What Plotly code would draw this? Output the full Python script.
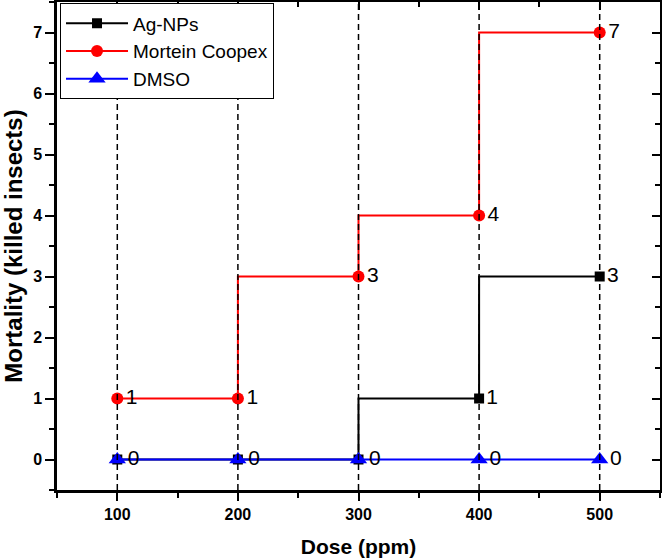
import plotly.graph_objects as go

DOSES = [100, 200, 300, 400, 500]
AG_NPS = [0, 0, 0, 1, 3]
MORTEIN = [1, 1, 3, 4, 7]
DMSO = [0, 0, 0, 0, 0]
SERIES = [
    ("Ag-NPs", AG_NPS, "black", "square", 10),
    ("Mortein Coopex", MORTEIN, "#ff0000", "circle", 12),
    ("DMSO", DMSO, "#0000ff", "triangle-up", 15),
]
X_TICKS = [100, 200, 300, 400, 500]
Y_TICKS = [0, 1, 2, 3, 4, 5, 6, 7]

FONT = "Arial, Liberation Sans, sans-serif"

fig = go.Figure()
for i, (name, vals, color, sym, size) in enumerate(SERIES):
    # labels for Ag-NPs zero points coincide with DMSO labels; show them once
    labels = [str(v) for v in vals]
    if name == "Ag-NPs":
        labels = [str(v) if v != d else "" for v, d in zip(vals, DMSO)]
    fig.add_trace(go.Scatter(
        x=DOSES, y=vals, name=name,
        mode="lines+markers+text",
        line=dict(color=color, width=2, shape="vh"),
        marker=dict(color=color, symbol=sym, size=size),
        text=labels,
        textposition="middle right",
        textfont=dict(family=FONT, size=21, color="black"),
        hoverinfo="skip", cliponaxis=False,
    ))

# invisible trace for mirrored (inward) top/right tick axes
fig.add_trace(go.Scatter(x=DOSES, y=MORTEIN, xaxis="x2", yaxis="y2",
                         mode="markers", marker=dict(opacity=0),
                         showlegend=False, hoverinfo="skip"))

for d in DOSES:
    fig.add_shape(type="line", xref="x", yref="paper", x0=d, x1=d, y0=0, y1=1,
                  line=dict(color="black", width=1.5, dash="6px,4px"), layer="above")

axis_common = dict(showgrid=False, zeroline=False, linecolor="black", linewidth=2.5,
                   tickcolor="black", tickwidth=2, automargin=False,
                   tickfont=dict(family=FONT, size=16, color="black", weight="bold"))

fig.update_layout(
    width=662, height=560,
    margin=dict(l=57, r=2, t=2, b=70, autoexpand=False),
    paper_bgcolor="white", plot_bgcolor="white",
    xaxis=dict(range=[50, 550], tickvals=X_TICKS, ticks="outside", ticklen=8,
               minor=dict(dtick=50, tick0=50, ticks="outside", ticklen=5, tickwidth=2, tickcolor="black"),
               title=dict(text="Dose (ppm)", font=dict(family=FONT, size=21, color="black", weight="bold"),
                          standoff=18),
               mirror=True, **axis_common),
    yaxis=dict(range=[-0.5, 7.5], tickvals=Y_TICKS, ticks="outside", ticklen=9,
               minor=dict(dtick=0.5, tick0=0, ticks="outside", ticklen=5, tickwidth=2, tickcolor="black"),
               title=dict(text="Mortality (killed insects)",
                          font=dict(family=FONT, size=24, color="black", weight="bold"), standoff=9),
               mirror=True, **axis_common),
    xaxis2=dict(overlaying="x", side="top", matches="x", range=[50, 550], tickvals=X_TICKS,
                ticks="inside", ticklen=8, showticklabels=False, automargin=False,
                minor=dict(dtick=50, tick0=50, ticks="inside", ticklen=5, tickwidth=2, tickcolor="black"),
                showgrid=False, zeroline=False, showline=False, tickcolor="black", tickwidth=2),
    yaxis2=dict(overlaying="y", side="right", matches="y", range=[-0.5, 7.5], tickvals=Y_TICKS,
                ticks="inside", ticklen=8, showticklabels=False, automargin=False,
                minor=dict(dtick=0.5, tick0=0, ticks="inside", ticklen=5, tickwidth=2, tickcolor="black"),
                showgrid=False, zeroline=False, showline=False, tickcolor="black", tickwidth=2),
    legend=dict(x=0.005, y=0.997, xanchor="left", yanchor="top",
                bordercolor="black", borderwidth=1, bgcolor="white",
                font=dict(family=FONT, size=19, color="black"),
                tracegroupgap=0, itemwidth=62),
    showlegend=True,
)

fig.write_html("out.html", config={"displayModeBar": False})

# remove the browser's default 8px body margin so the figure sits at the page corner
with open("out.html", encoding="utf-8") as f:
    html = f.read()
html = html.replace("<body>", '<body style="margin:0;padding:0;">', 1)
with open("out.html", "w", encoding="utf-8") as f:
    f.write(html)
